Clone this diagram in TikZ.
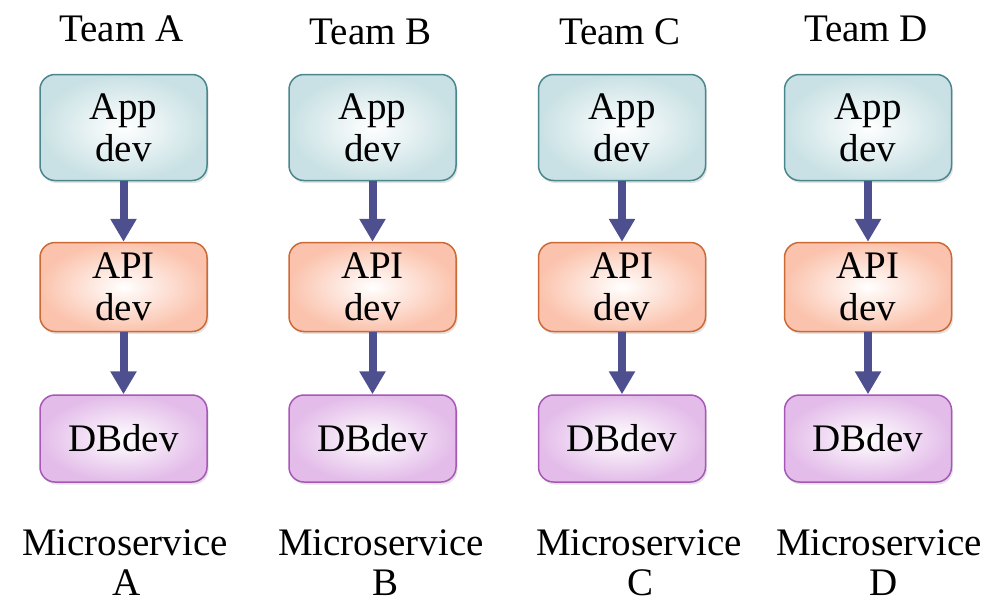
\documentclass[tikz,border=0pt]{standalone}
\usepackage{fontspec}
\setmainfont{Liberation Serif}
\usetikzlibrary{arrows.meta,shadows}

\definecolor{appfill}{HTML}{C9E1E4}
\definecolor{appline}{HTML}{4A878D}
\definecolor{apifill}{HTML}{FBC3AD}
\definecolor{apiline}{HTML}{CC6A36}
\definecolor{dbfill}{HTML}{E3BCE9}
\definecolor{dbline}{HTML}{A757B6}
\definecolor{flow}{HTML}{4E4F8E}

\tikzset{
  label text/.style={font=\fontsize{39}{42}\selectfont, align=center, inner sep=0pt},
  layerbox/.style={label text, rounded corners=15pt, minimum width=167pt,
    line width=1.5pt,
    drop shadow={opacity=0.22, shadow xshift=1.5pt, shadow yshift=-2.5pt}},
  appbox/.style={layerbox, draw=appline, inner color=white, outer color=appfill, minimum height=106pt},
  apibox/.style={layerbox, draw=apiline, inner color=white, outer color=apifill, minimum height=89pt},
  dbbox/.style={layerbox, draw=dbline, inner color=white, outer color=dbfill, minimum height=87pt},
  flowarrow/.style={draw=flow, line width=8pt,
    -{Triangle[width=25pt,length=23pt]}, fill=flow},
}

\begin{document}
\begin{tikzpicture}[x=1pt, y=-1pt]
  \useasboundingbox (0,0) rectangle (992,600);

  % one column per team: heading, three stacked layers, service name
  \foreach \id/\cx/\ty/\mx/\lx in {A/123.5/29/125/127, B/372.5/32/381/385,
                                   C/622/32/639/640, D/868/29/879/884} {
    \node[label text] (team\id) at (\cx-2,\ty) {Team \id};
    \node[appbox] (app\id) at (\cx,127.5) {App\\dev};
    \node[apibox] (api\id) at (\cx,287) {API\\dev};
    \node[dbbox]  (db\id)  at (\cx,438.5) {DBdev};
    \draw[flowarrow] (app\id.south) -- (api\id.north);
    \draw[flowarrow] (api\id.south) -- (db\id.north);
    \node[label text] (svc\id) at (\mx,543) {Microservice};
    \node[label text] (svcname\id) at (\lx,583) {\id};
  }
\end{tikzpicture}
\end{document}
